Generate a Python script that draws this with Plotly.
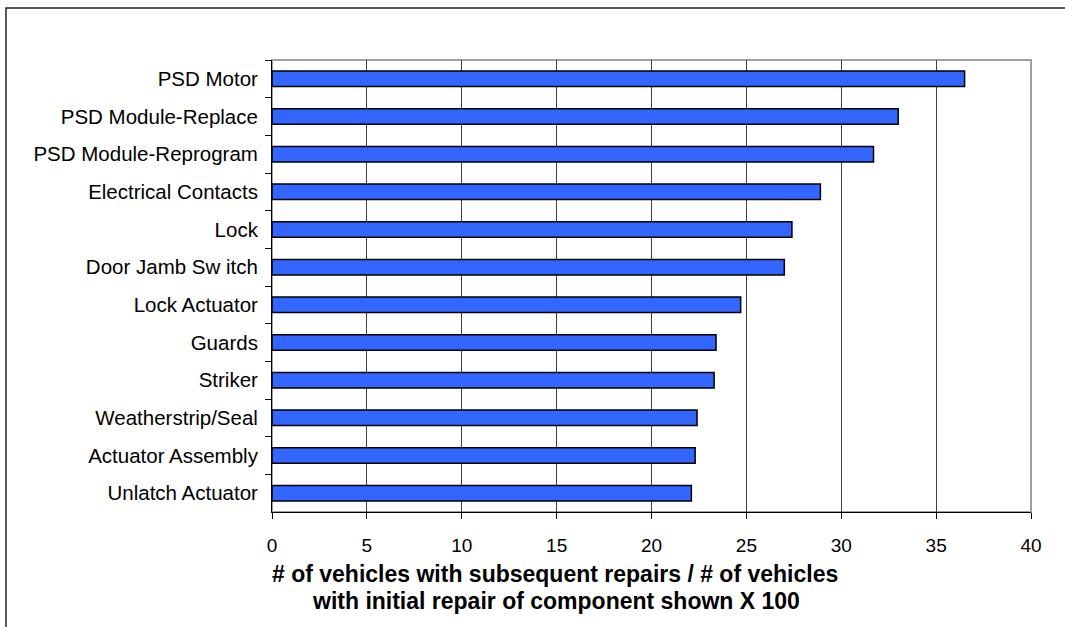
import plotly.graph_objects as go

categories = ["PSD Motor", "PSD Module-Replace", "PSD Module-Reprogram",
              "Electrical Contacts", "Lock", "Door Jamb Sw itch", "Lock Actuator",
              "Guards", "Striker", "Weatherstrip/Seal", "Actuator Assembly",
              "Unlatch Actuator"]
values = [36.5, 33.0, 31.7, 28.9, 27.4, 27.0, 24.7, 23.4, 23.3, 22.4, 22.3, 22.1]
x_ticks = [0, 5, 10, 15, 20, 25, 30, 35, 40]
x_title_lines = ["# of vehicles with subsequent repairs / # of vehicles",
                 "with initial repair of component shown X 100"]

FONT = "Liberation Sans, Arial, sans-serif"
L, R, T, B = 272, 34, 60, 115
PW, PH = 1065 - L - R, 627 - T - B

fig = go.Figure(go.Bar(
    x=values, y=categories, orientation="h",
    marker=dict(color="#3366FF", line=dict(color="#000000", width=1.5)),
    hoverinfo="x+y",
))

fig.update_layout(
    width=1065, height=627,
    margin=dict(l=L, r=R, t=T, b=B),
    paper_bgcolor="white", plot_bgcolor="white",
    bargap=0.59,
    showlegend=False,
    font=dict(family=FONT, size=20, color="black"),
    xaxis=dict(range=[0, 40], tickvals=x_ticks, ticks="outside", ticklen=6,
               tickcolor="black", showline=True, linecolor="black", linewidth=1,
               showgrid=True, gridcolor="#404040", gridwidth=1, zeroline=False,
               ticklabelstandoff=10,
               tickfont=dict(size=19, family=FONT)),
    yaxis=dict(autorange="reversed", ticks="outside", ticklen=6, tickcolor="black",
               tickson="boundaries", showline=True, linecolor="black", linewidth=1,
               showgrid=False, ticklabelstandoff=9,
               tickfont=dict(size=20.5, family=FONT)),
    shapes=[
        dict(type="rect", xref="x domain", yref="y domain", x0=0, x1=1, y0=0, y1=1,
             line=dict(color="#A0A0A0", width=2), layer="below"),
        dict(type="rect", xref="paper", yref="paper",
             x0=-(L - 6) / PW, x1=1.2, y0=-0.5, y1=1 + (T - 8) / PH,
             line=dict(color="#222222", width=1.5)),
    ],
    annotations=[
        dict(text="<b>" + x_title_lines[0] + "</b>", xref="paper", yref="paper",
             x=(555 - L) / PW, y=-(574 - (627 - B)) / PH, xanchor="center", yanchor="middle",
             showarrow=False, font=dict(size=23, family=FONT, color="black")),
        dict(text="<b>" + x_title_lines[1] + "</b>", xref="paper", yref="paper",
             x=(556 - L) / PW, y=-(601 - (627 - B)) / PH, xanchor="center", yanchor="middle",
             showarrow=False, font=dict(size=23, family=FONT, color="black")),
    ],
)

fig.write_html("out.html")
